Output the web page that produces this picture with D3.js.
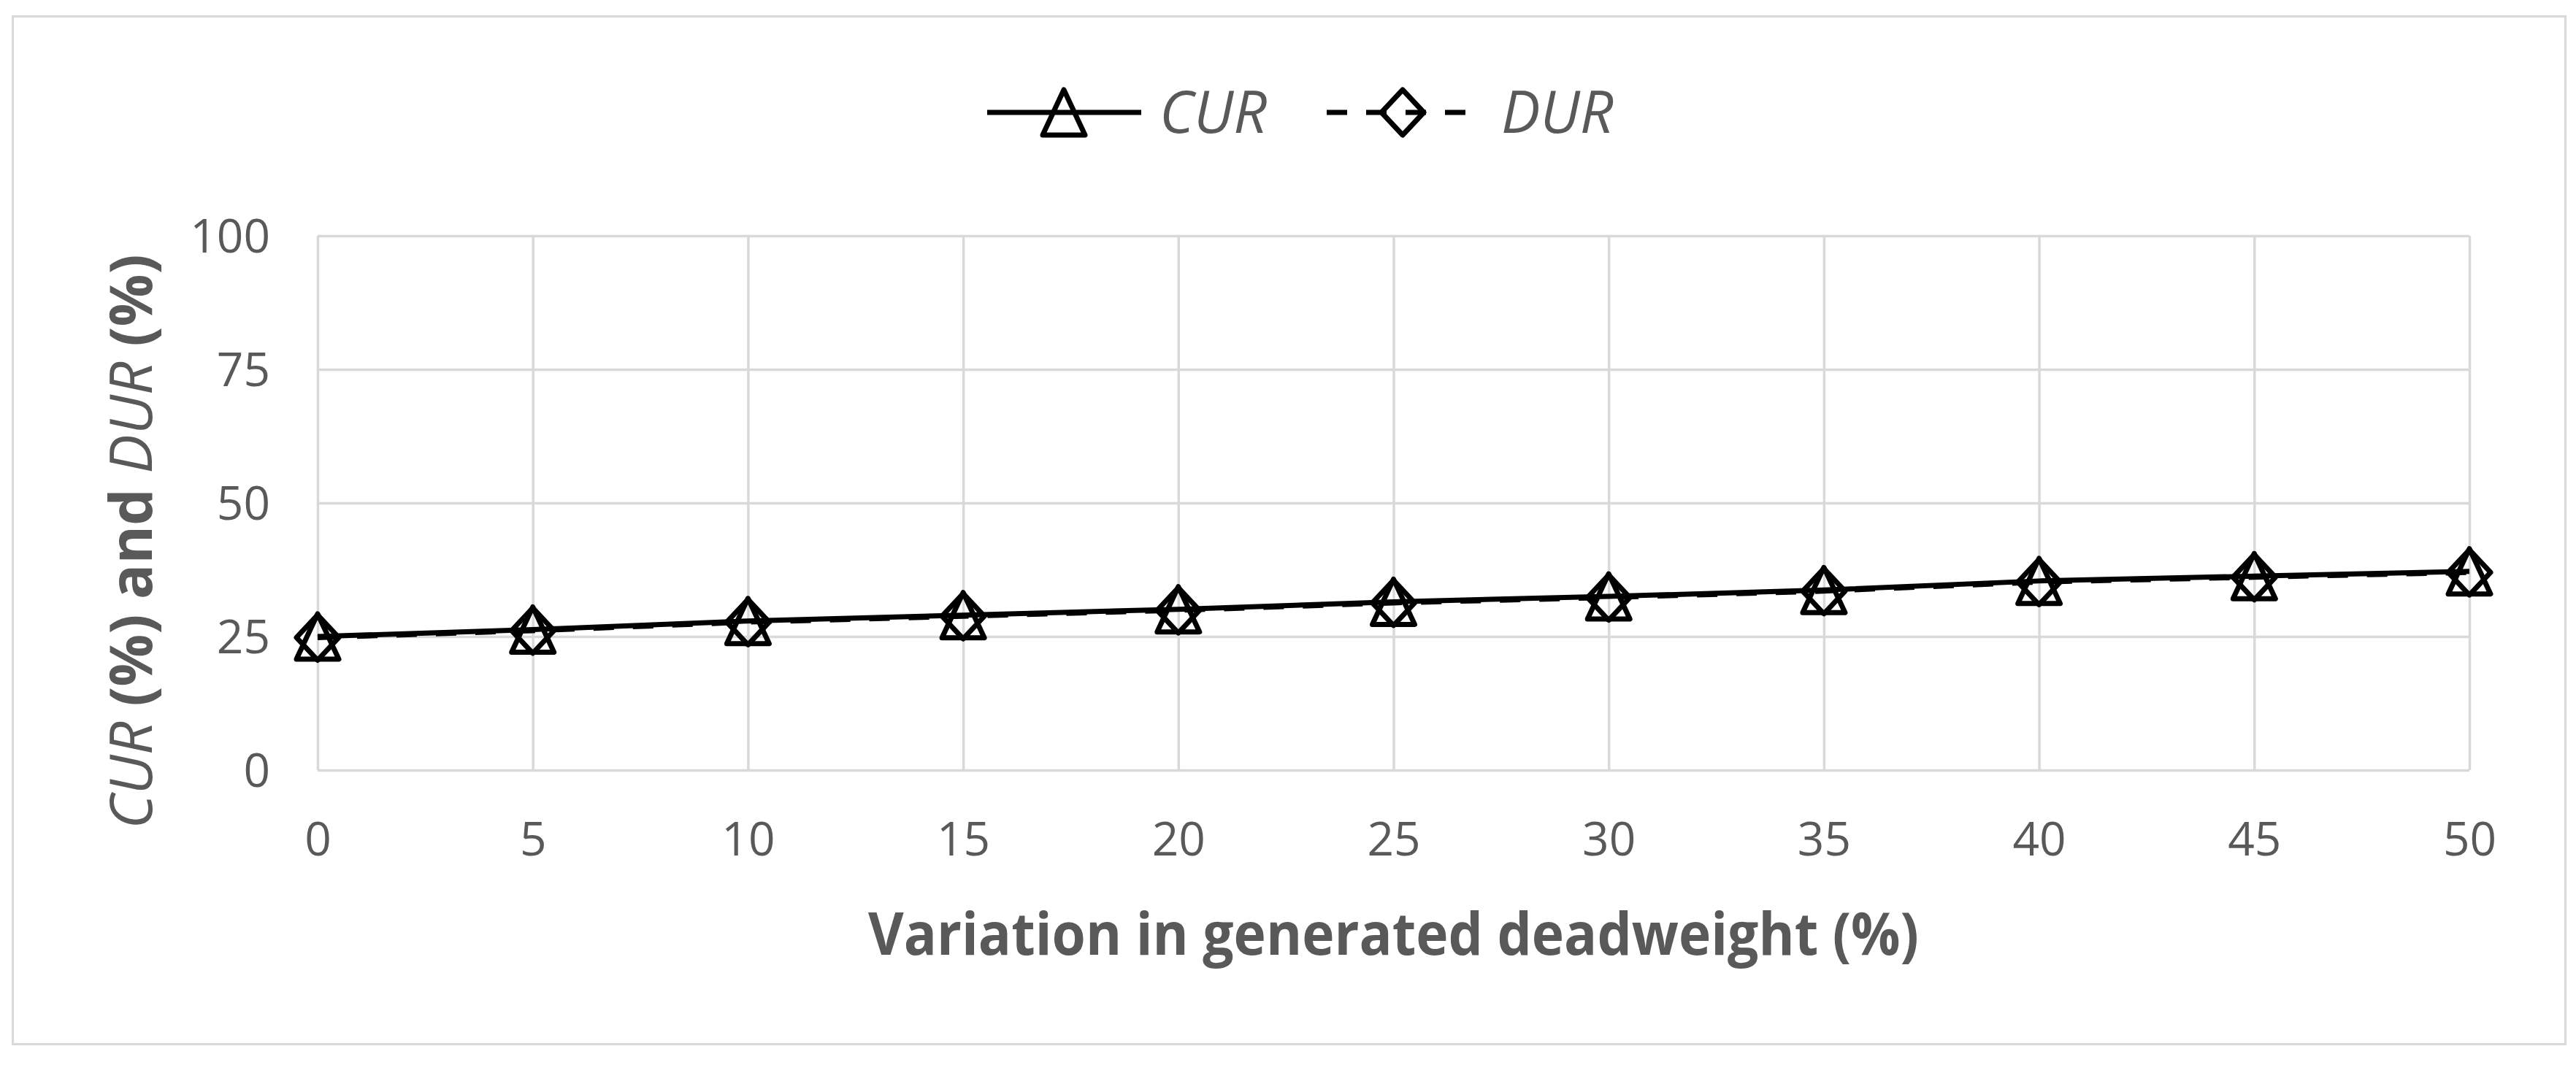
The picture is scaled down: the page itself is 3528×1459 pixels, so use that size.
<!DOCTYPE html>
<html>
<head>
<meta charset="utf-8">
<script src="https://cdn.jsdelivr.net/npm/d3@7"></script>
<style>
  html, body { margin: 0; padding: 0; background: #ffffff; }
  svg { display: block; }
</style>
</head>
<body>
<div id="chart"></div>
<script>
// ---- data ----
const xValues = [0, 5, 10, 15, 20, 25, 30, 35, 40, 45, 50];
const curValues = [25.0, 26.3, 27.9, 29.0, 30.1, 31.5, 32.5, 33.7, 35.4, 36.3, 37.2];
const durValues = [24.8, 26.1, 27.7, 28.8, 29.9, 31.3, 32.3, 33.5, 35.2, 36.1, 37.0];
const yTicks = [0, 25, 50, 75, 100];
const xTicks = [0, 5, 10, 15, 20, 25, 30, 35, 40, 45, 50];
const seriesNames = ["CUR", "DUR"];
const xTitle = "Variation in generated deadweight (%)";

// ---- layout ----
const W = 3528, H = 1459;
const plot = { left: 435, right: 3382, top: 323, bottom: 1055 };
const FONT = "'Open Sans', 'Noto Sans', sans-serif";
const TEXT = "#595959";
const GRID = "#d9d9d9";
const SW = 7;

const svg = d3.select("#chart").append("svg")
  .attr("width", W).attr("height", H)
  .attr("viewBox", `0 0 ${W} ${H}`);

svg.append("rect").attr("x", 0).attr("y", 0).attr("width", W).attr("height", H).attr("fill", "#fff");
// chart border
svg.append("rect")
  .attr("x", 17.5).attr("y", 22.5).attr("width", 3496).attr("height", 1408)
  .attr("fill", "#fff").attr("stroke", GRID).attr("stroke-width", 3);

const x = d3.scaleLinear().domain([0, 50]).range([plot.left, plot.right]);
const y = d3.scaleLinear().domain([0, 100]).range([plot.bottom, plot.top]);

// vertical gridlines + x tick labels
const xAxis = svg.append("g")
  .attr("transform", `translate(0,${plot.bottom})`)
  .call(d3.axisBottom(x).tickValues(xTicks).tickSize(-(plot.bottom - plot.top)).tickPadding(74).tickFormat(d3.format("d")));
xAxis.select(".domain").remove();
xAxis.selectAll(".tick line").attr("stroke", GRID).attr("stroke-width", 3.5);
xAxis.selectAll(".tick text")
  .attr("fill", TEXT).attr("font-family", FONT).attr("font-size", 64)
  .attr("dy", null).attr("y", 117);

// horizontal gridlines + y tick labels
const yAxis = svg.append("g")
  .attr("transform", `translate(${plot.left},0)`)
  .call(d3.axisLeft(y).tickValues(yTicks).tickSize(-(plot.right - plot.left)).tickPadding(65).tickFormat(d3.format("d")));
yAxis.select(".domain").remove();
yAxis.selectAll(".tick line").attr("stroke", GRID).attr("stroke-width", 3.5);
yAxis.selectAll(".tick text")
  .attr("fill", TEXT).attr("font-family", FONT).attr("font-size", 64)
  .attr("dy", "0.35em");

// ---- series ----
const curData = xValues.map((v, i) => ({ x: v, y: curValues[i] }));
const durData = xValues.map((v, i) => ({ x: v, y: durValues[i] }));

const line = d3.line().x(d => x(d.x)).y(d => y(d.y));
const DASH = "28,26";

const triPath = "M0,-31L29,31L-29,31Z";
const diaPath = "M0,-31L29,0L0,31L-29,0Z";

svg.append("path").datum(curData)
  .attr("d", line).attr("fill", "none").attr("stroke", "#000").attr("stroke-width", SW)
  .attr("stroke-linejoin", "round");
svg.append("g").selectAll("path").data(curData).join("path")
  .attr("d", triPath)
  .attr("transform", d => `translate(${x(d.x)},${y(d.y)})`)
  .attr("fill", "none").attr("stroke", "#000").attr("stroke-width", SW).attr("stroke-linejoin", "round");

svg.append("path").datum(durData)
  .attr("d", line).attr("fill", "none").attr("stroke", "#000").attr("stroke-width", SW)
  .attr("stroke-dasharray", DASH);
svg.append("g").selectAll("path").data(durData).join("path")
  .attr("d", diaPath)
  .attr("transform", d => `translate(${x(d.x)},${y(d.y)})`)
  .attr("fill", "none").attr("stroke", "#000").attr("stroke-width", SW).attr("stroke-linejoin", "round");

// ---- legend ----
const legY = 154;
const leg = svg.append("g");
// CUR
leg.append("line").attr("x1", 1352).attr("x2", 1563).attr("y1", legY).attr("y2", legY)
  .attr("stroke", "#000").attr("stroke-width", SW);
leg.append("path").attr("d", triPath).attr("transform", `translate(1457,${legY})`)
  .attr("fill", "none").attr("stroke", "#000").attr("stroke-width", SW).attr("stroke-linejoin", "round");
leg.append("text").attr("x", 1588).attr("y", legY + 28)
  .attr("font-family", FONT).attr("font-style", "italic").attr("font-size", 80).attr("fill", TEXT)
  .text(seriesNames[0]);
// DUR
leg.append("line").attr("x1", 1817).attr("x2", 2010).attr("y1", legY).attr("y2", legY)
  .attr("stroke", "#000").attr("stroke-width", SW).attr("stroke-dasharray", DASH);
leg.append("path").attr("d", diaPath).attr("transform", `translate(1921,${legY})`)
  .attr("fill", "none").attr("stroke", "#000").attr("stroke-width", SW).attr("stroke-linejoin", "round");
leg.append("text").attr("x", 2056).attr("y", legY + 28)
  .attr("font-family", FONT).attr("font-style", "italic").attr("font-size", 80).attr("fill", TEXT)
  .text(seriesNames[1]);

// ---- axis titles ----
svg.append("text")
  .attr("x", (plot.left + plot.right) / 2).attr("y", 1308)
  .attr("text-anchor", "middle")
  .attr("font-family", FONT).attr("font-weight", "bold").attr("font-size", 80).attr("fill", TEXT)
  .attr("textLength", 1439).attr("lengthAdjust", "spacingAndGlyphs")
  .text(xTitle);

const yt = svg.append("text")
  .attr("transform", "translate(208,742) rotate(-90)")
  .attr("text-anchor", "middle")
  .attr("font-family", FONT).attr("font-weight", "bold").attr("font-size", 80).attr("fill", TEXT)
  .attr("textLength", 787).attr("lengthAdjust", "spacingAndGlyphs");
yt.append("tspan").attr("font-style", "italic").attr("font-weight", "normal").text("CUR");
yt.append("tspan").text(" (%) and ");
yt.append("tspan").attr("font-style", "italic").attr("font-weight", "normal").text("DUR");
yt.append("tspan").text(" (%)");
</script>
</body>
</html>
